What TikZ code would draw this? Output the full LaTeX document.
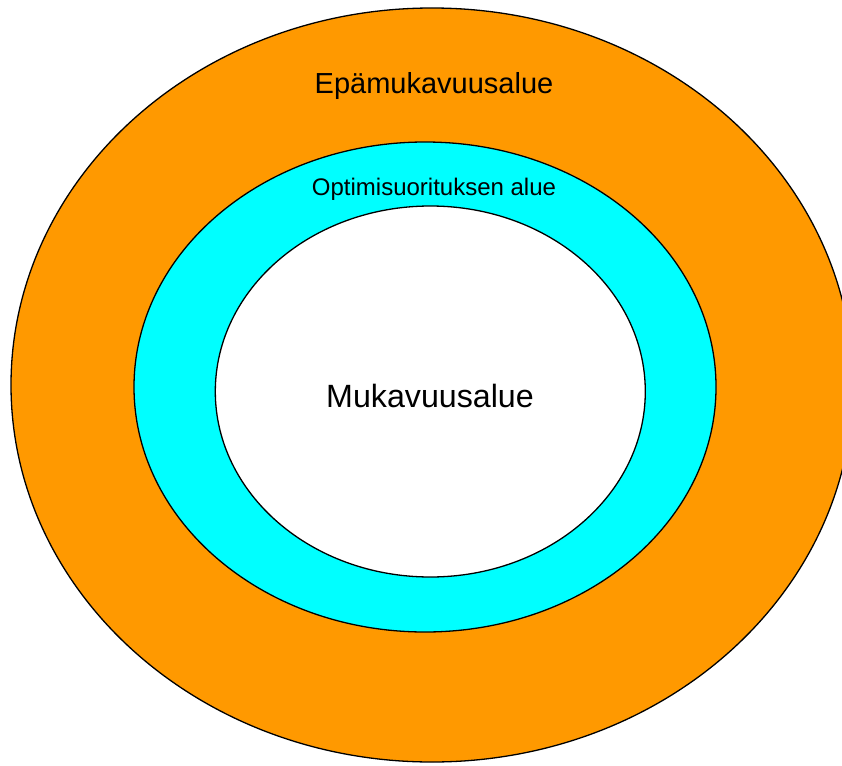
\documentclass[tikz,border=0pt]{standalone}
\usepackage{fontspec}
\setmainfont{Liberation Sans}
\definecolor{outerorange}{HTML}{FF9900}
\definecolor{midcyan}{HTML}{00FFFF}
\begin{document}
\begin{tikzpicture}[x=1pt,y=-1pt,
  ring/.style={draw=black,line width=1.3pt},
  lbl/.style={anchor=base,inner sep=0pt,text=black}]
\useasboundingbox (0,0) rectangle (842,765);
\clip (0,0) rectangle (842,765);
\fill[white] (0,0) rectangle (842,765);
\draw[ring,fill=outerorange] (432,385) ellipse [x radius=421, y radius=377];
\draw[ring,fill=midcyan] (425,387) ellipse [x radius=291, y radius=245];
\draw[ring,fill=white] (430.3,391.5) ellipse [x radius=215, y radius=185.5];
\node[lbl,font=\fontsize{29}{31}\selectfont] (outer) at (434,94) {Epämukavuusalue};
\node[lbl,font=\fontsize{24}{26}\selectfont] (mid) at (434,195) {Optimisuorituksen alue};
\node[lbl,font=\fontsize{32.2}{34}\selectfont] (inner) at (430,407) {Mukavuusalue};
\end{tikzpicture}
\end{document}
